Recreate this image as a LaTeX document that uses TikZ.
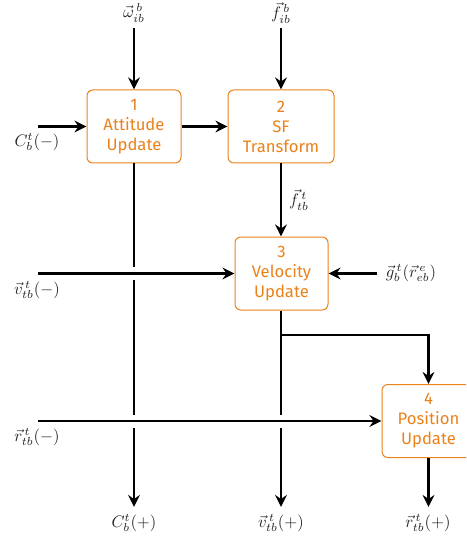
\documentclass[tikz,border=0pt]{standalone}
\usepackage{fontspec}
\setmainfont{Fira Sans}
\usetikzlibrary{arrows.meta,calc}
\definecolor{morange}{HTML}{EB811B}
\begin{document}
\begin{tikzpicture}[x=0.6pt,y=-0.6pt,
  blk/.style={draw=morange, text=morange, rounded corners=3.5pt, line width=0.6pt,
    minimum height=43.8pt, align=center, inner sep=1pt},
  conn/.style={line width=1.5pt, -{Stealth[length=7.2pt,width=7pt,inset=2.4pt]}},
  lbl/.style={inner sep=0pt, text=black!85}]
\useasboundingbox (0,0) rectangle (466,540);
\clip (0,0) rectangle (466,540);
% blocks
\node[blk, minimum width=56.4pt] (b1) at (134,126.5) {1\\Attitude\\Update};
\node[blk, minimum width=63.6pt] (b2) at (281,126.5) {2\\SF\\Transform};
\node[blk, minimum width=55.8pt] (b3) at (281.5,273.5) {3\\Velocity\\Update};
\node[blk, minimum width=55.8pt] (b4) at (428.5,421) {4\\Position\\Update};
% labels
\node[lbl] (lw) at (134,13) {$\vec{\omega}^{\,b}_{ib}$};
\node[lbl] (lf) at (281,13) {$\vec{f}^{\,b}_{ib}$};
\node[lbl] (lc) at (37,142) {$C_b^t(-)$};
\node[lbl] (lv) at (37,290) {$\vec{v}^{\,t}_{tb}(-)$};
\node[lbl] (lr) at (37,437) {$\vec{r}^{\,t}_{tb}(-)$};
\node[lbl] (lg) at (411,273) {$\vec{g}^{\,t}_b(\vec{r}^{\,e}_{eb})$};
\node[lbl] (lft) at (299,200) {$\vec{f}^{\,t}_{tb}$};
\node[lbl] (lco) at (134,523) {$C_b^t(+)$};
\node[lbl] (lvo) at (281,523) {$\vec{v}^{\,t}_{tb}(+)$};
\node[lbl] (lro) at (428,523) {$\vec{r}^{\,t}_{tb}(+)$};
% connector end points
\coordinate (wtop) at (134,28);
\coordinate (ftop) at (281,28);
\coordinate (cin) at (38,126.5);
\coordinate (vin) at (38,273.5);
\coordinate (rin) at (38,421);
\coordinate (gin) at (377,273.5);
\coordinate (cout) at (134,507);
\coordinate (vout) at (281,507);
\coordinate (rout) at (428.5,507);
\coordinate (br) at (281,335);
% connectors
\draw[conn] (wtop) -- (b1.north);
\draw[conn] (ftop) -- (b2.north);
\draw[conn] (cin) -- (b1.west);
\draw[conn] (b1.east) -- (b2.west);
\draw[conn] (b2.south) -- (b3.north -| b2.south);
\draw[conn] (gin) -- (b3.east);
\draw[conn] (b1.south) -- (cout);
\draw[conn] (b3.south -| br) -- (vout);
\draw[conn] (br) -| (b4.north);
\draw[conn] (b4.south) -- (rout);
% crossing gaps
\fill[white] ($(b1.south |- vin)+(-6,-6.5)$) rectangle ++(12,13);
\fill[white] ($(b1.south |- rin)+(-6,-6.5)$) rectangle ++(12,13);
\fill[white] ($(br |- rin)+(-6,-6.5)$) rectangle ++(12,13);
\draw[conn] (vin) -- (b3.west);
\draw[conn] (rin) -- (b4.west);
\end{tikzpicture}
\end{document}
